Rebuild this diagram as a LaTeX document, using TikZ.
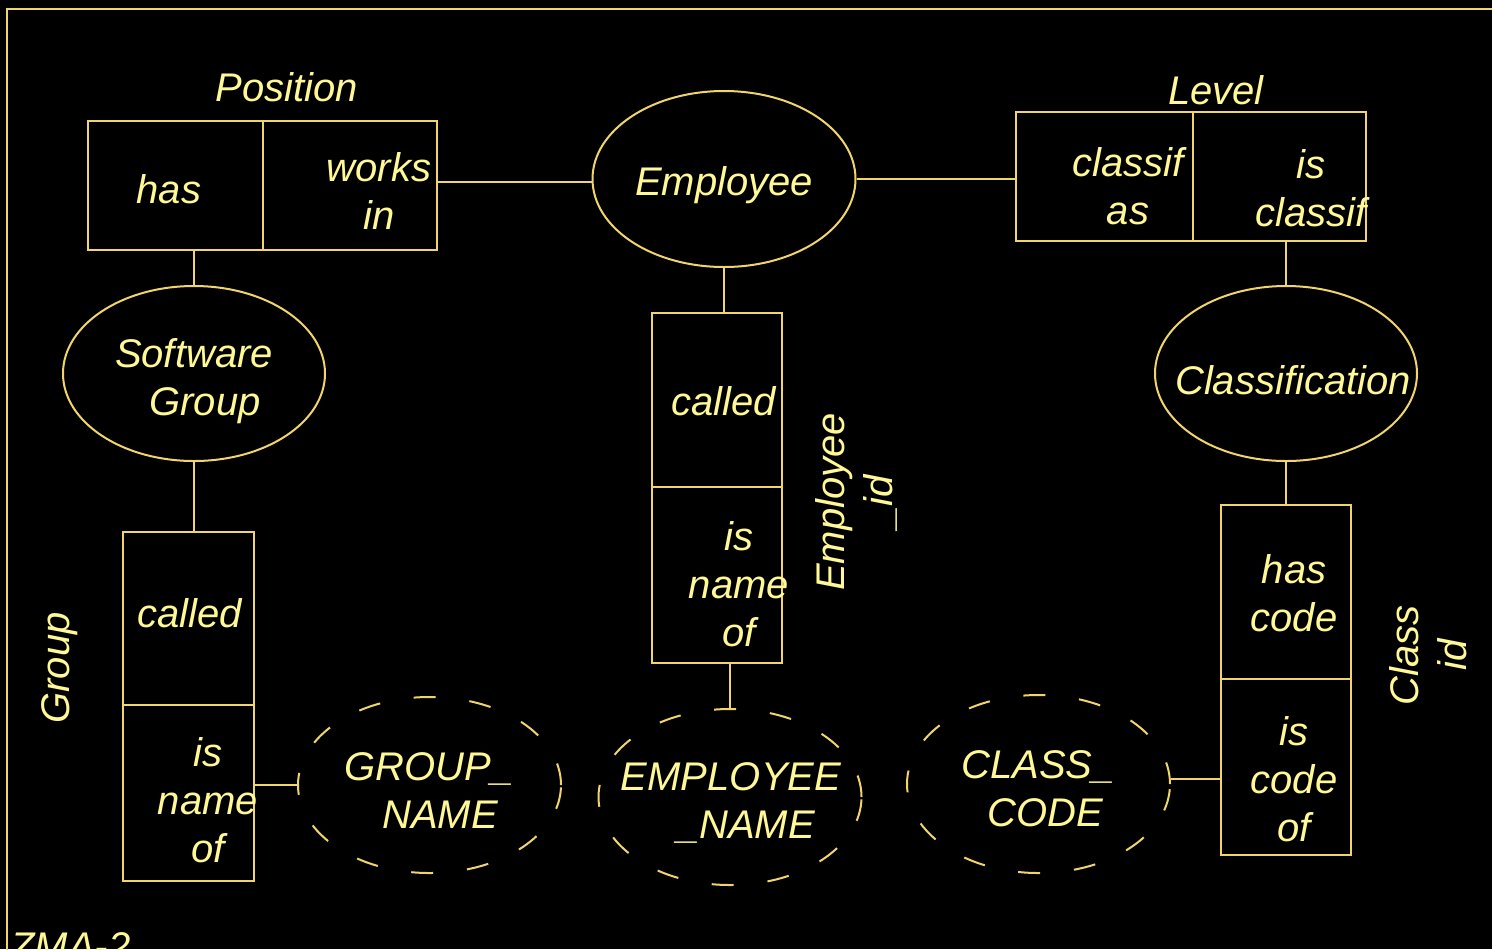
\documentclass[tikz,border=0pt]{standalone}
\usepackage{fontspec}
\setmainfont{Liberation Sans}
\usetikzlibrary{shapes.geometric}
\definecolor{linec}{RGB}{240,212,108}
\definecolor{textc}{RGB}{255,248,150}
\begin{document}
\begin{tikzpicture}[x=0.5pt,y=-0.5pt,
  cell/.style={draw=linec, line width=1pt, rectangle, inner sep=0pt},
  ent/.style={draw=linec, line width=1pt, ellipse, inner sep=0pt, minimum width=131.5pt, minimum height=88pt},
  attr/.style={ent, dash pattern=on 11pt off 17pt},
  lbl/.style={text=textc, inner sep=0pt, align=center, font=\fontsize{20}{24}\selectfont\itshape},
  conn/.style={draw=linec, line width=1pt}]
\fill[black] (0,0) rectangle (1492,949);
\useasboundingbox (0,0) rectangle (1492,949);
% frame
\draw[linec, line width=1pt] (7,1000) -- (7,9) -- (1550,9);

% relationship cells
\node[cell, minimum width=87.5pt, minimum height=64.5pt] (has) at (175.5,185.5) {};
\node[cell, minimum width=87pt, minimum height=64.5pt] (works) at (350,185.5) {};
\node[cell, minimum width=88.5pt, minimum height=64.5pt] (classifas) at (1104.5,176.5) {};
\node[cell, minimum width=86.5pt, minimum height=64.5pt] (isclassif) at (1279.5,176.5) {};
\node[cell, minimum width=65pt, minimum height=87pt] (called) at (717,400) {};
\node[cell, minimum width=65pt, minimum height=88pt] (isname) at (717,575) {};
\node[cell, minimum width=65.5pt, minimum height=86.5pt] (gcalled) at (188.5,618.5) {};
\node[cell, minimum width=65.5pt, minimum height=88pt] (gisname) at (188.5,793) {};
\node[cell, minimum width=65pt, minimum height=87pt] (hascode) at (1286,592) {};
\node[cell, minimum width=65pt, minimum height=88pt] (iscode) at (1286,767) {};

% entities
\node[ent] (emp) at (724,179) {};
\node[ent, minimum width=131pt, minimum height=87.5pt] (sw) at (194,373.5) {};
\node[ent, minimum width=131pt, minimum height=87.5pt] (cls) at (1286,373.5) {};
% attributes
\node[attr] (gname) at (429.5,785) {};
\node[attr] (ename) at (730,797) {};
\node[attr, minimum height=89pt] (ccode) at (1038.5,784) {};

% connectors
\draw[conn] ([yshift=-1.5pt]emp.west -| works.east) -- ([yshift=-1.5pt]emp.west);
\draw[conn] (emp.east) -- (emp.east -| classifas.west);
\draw[conn] (cls.north) -- (cls.north |- isclassif.south);
\draw[conn] (cls.south) -- (cls.south |- hascode.north);
\draw[conn] ([yshift=2.5pt]ccode.east -| iscode.west) -- ([yshift=2.5pt]ccode.east);
\draw[conn] (emp.south) -- (emp.south |- called.north);
\draw[conn] (ename.north) -- (ename.north |- isname.south);
\draw[conn] (sw.north) -- (sw.north |- has.south);
\draw[conn] (sw.south) -- (sw.south |- gcalled.north);
\draw[conn] (gname.west -| gisname.east) -- (gname.west);

% labels
\node[lbl] (tPosition) at (287,87) {Position};
\node[lbl] (tLevel) at (1216,90) {Level};
\node[lbl] (tHas) at (169,189) {has};
\node[lbl] (tWorks) at (379,191) {works\\in};
\node[lbl] (tEmp) at (724,185) {Employee};
\node[lbl] (tClassifAs) at (1128,186) {classif\\as};
\node[lbl] (tIsClassif) at (1311,188) {is\\classif};
\node[lbl] (tSw) at (194,381) {Software\\\hspace*{11pt}Group};
\node[lbl] (tCls) at (1293,380) {Classification};
\node[lbl] (tCalled) at (724,401) {called};
\node[lbl] (tIsName) at (739,584) {is\\name\\of};
\node[lbl, rotate=90] (tEmpId) at (856,502) {Employee\\\_id};
\node[lbl, rotate=90] (tClassId) at (1428,655) {Class\\id};
\node[lbl, rotate=90] (tGroup) at (60,668) {Group};
\node[lbl] (tHasCode) at (1294,593) {has\\code};
\node[lbl] (tIsCode) at (1294,779) {is\\code\\of};
\node[lbl] (tGCalled) at (190,613) {called};
\node[lbl] (tGIsName) at (208,800) {is\\name\\of};
\node[lbl] (tGName) at (429,791) {GROUP\_\\\hspace*{11pt}NAME};
\node[lbl] (tEName) at (731,803) {EMPLOYEE\\\hspace*{15pt}\_NAME};
\node[lbl] (tCCode) at (1038,789) {CLASS\_\\\hspace*{7pt}CODE};
\node[lbl, anchor=base west] (tZma) at (10,960) {ZMA-2};
\end{tikzpicture}
\end{document}
